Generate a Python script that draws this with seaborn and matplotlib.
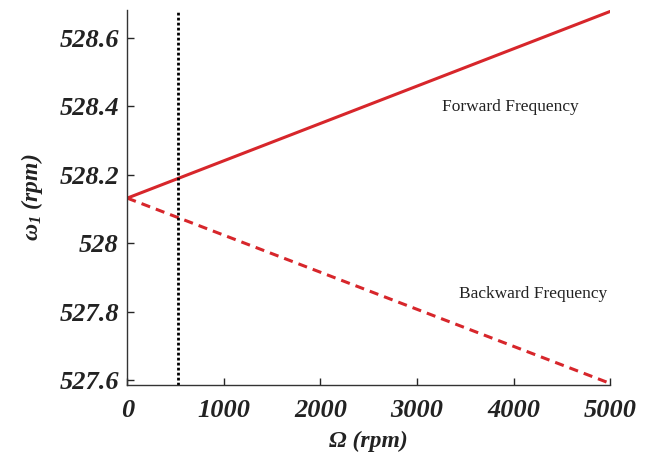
import numpy as np
import pandas as pd
import matplotlib
matplotlib.use("Agg")
import matplotlib.pyplot as plt
import seaborn as sns

# Spin speed (rpm) and the first natural frequency branches (rpm)
speed = [0, 5000]
forward_freq = [528.132, 528.678]
backward_freq = [528.132, 527.590]
critical_speed = 528
x_ticks = [0, 1000, 2000, 3000, 4000, 5000]
y_ticks = [527.6, 527.8, 528.0, 528.2, 528.4, 528.6]
y_tick_labels = ["527.6", "527.8", "528", "528.2", "528.4", "528.6"]

sns.set_style("ticks")
plt.rcParams["font.family"] = ["Liberation Serif", "DejaVu Serif"]
plt.rcParams["mathtext.fontset"] = "custom"
plt.rcParams["mathtext.rm"] = "Liberation Serif:italic:bold"
plt.rcParams["mathtext.it"] = "Liberation Serif:italic:bold"
plt.rcParams["mathtext.bf"] = "Liberation Serif:bold"

df = pd.DataFrame({
    "speed": speed * 2,
    "freq": forward_freq + backward_freq,
    "branch": ["Forward"] * 2 + ["Backward"] * 2,
})

fig = plt.figure(figsize=(6.56, 4.59), dpi=100)
ax = fig.add_axes([0.194, 0.161, 0.736, 0.817])

red = "#d7262b"
sns.lineplot(data=df, x="speed", y="freq", hue="branch", style="branch",
             palette={"Forward": red, "Backward": red},
             dashes={"Forward": "", "Backward": (3, 2)},
             linewidth=2.2, legend=False, ax=ax)

ax.axvline(critical_speed, color="black", linestyle=(0, (1, 0.8)), linewidth=2)

ax.set_xlim(0, 5000)
ax.set_ylim(527.585, 528.682)
ax.set_xticks(x_ticks)
ax.set_yticks(y_ticks)
ax.set_yticklabels(y_tick_labels)
ax.tick_params(direction="in", length=5, width=1)
ax.tick_params(axis="x", pad=10)
ax.tick_params(axis="y", pad=6)
for lbl in ax.get_xticklabels() + ax.get_yticklabels():
    lbl.set_fontsize(19)
    lbl.set_fontweight("bold")
    lbl.set_fontstyle("italic")
    lbl.set_color("#222222")

sns.despine(ax=ax)
for s in ["left", "bottom"]:
    ax.spines[s].set_linewidth(1)
    ax.spines[s].set_color("#333333")

ax.set_xlabel("Ω (rpm)", fontsize=17, fontweight="bold", fontstyle="italic",
              color="#222222", labelpad=6)
ax.set_ylabel(r"$\omega_1$ (rpm)", fontsize=17, fontweight="bold",
              fontstyle="italic", color="#222222", labelpad=10)

ax.text(3965, 528.398, "Forward Frequency", fontsize=12.5, ha="center",
        va="center", color="#222222")
ax.text(4203, 527.851, "Backward Frequency", fontsize=12.5, ha="center",
        va="center", color="#222222")

fig.savefig("out.png", dpi=100)
